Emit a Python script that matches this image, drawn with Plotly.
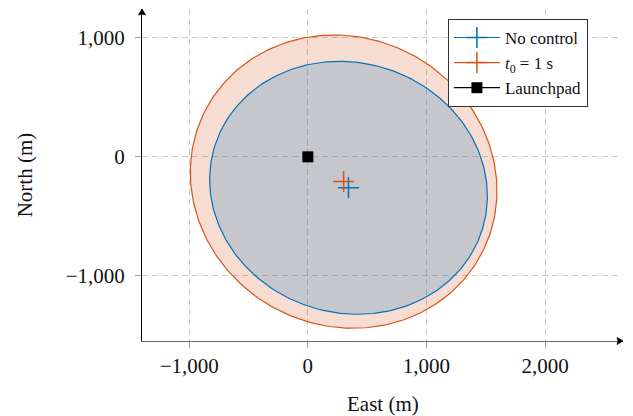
import numpy as np
import plotly.graph_objects as go

# ---- data ----
series_names = ["No control", "<i>t</i><sub>0</sub> = 1 s"]
center_east = [343, 302]          # m
center_north = [-260, -208]       # m
semi_major = [1181, 1311]         # m
semi_minor = [1050, 1211]         # m
rotation_deg = [-16.8, -25.9]     # deg
launch_east = [0]
launch_north = [0]

x_ticks = [-1000, 0, 1000, 2000]
x_ticktext = ["\u22121,000", "0", "1,000", "2,000"]
y_ticks = [-1000, 0, 1000]
y_ticktext = ["\u22121,000", "0", "1,000"]

line_colors = ["#0072BD", "#D95319"]
fill_colors = ["rgba(0,114,189,0.2)", "rgba(217,83,25,0.2)"]

FONT = "Liberation Serif"

def ellipse(i, n=300):
    t = np.linspace(0, 2 * np.pi, n)
    th = np.deg2rad(rotation_deg[i])
    a, b = semi_major[i], semi_minor[i]
    e = center_east[i] + a * np.cos(th) * np.cos(t) - b * np.sin(th) * np.sin(t)
    nn = center_north[i] + a * np.sin(th) * np.cos(t) + b * np.cos(th) * np.sin(t)
    return e, nn

fig = go.Figure()

# ellipses: outer (t0) first, then inner (no control)
for i in [1, 0]:
    e, nn = ellipse(i)
    fig.add_trace(go.Scatter(x=e, y=nn, mode="lines", fill="toself",
                             fillcolor=fill_colors[i],
                             line=dict(color=line_colors[i], width=1.2),
                             showlegend=False, hoverinfo="skip"))

for i in [0, 1]:
    fig.add_trace(go.Scatter(x=[center_east[i]], y=[center_north[i]],
                             mode="lines+markers", name=series_names[i],
                             line=dict(color=line_colors[i], width=1.2),
                             marker=dict(symbol="cross-thin", size=15,
                                         color=line_colors[i],
                                         line=dict(color=line_colors[i], width=1.5))))

fig.add_trace(go.Scatter(x=launch_east, y=launch_north, mode="lines+markers",
                         name="Launchpad",
                         line=dict(color="black", width=1.2),
                         marker=dict(symbol="square", size=11, color="black")))

axis_common = dict(showgrid=True, gridcolor="#c8c8c8", griddash="6px,4px",
                   gridwidth=1, zeroline=False, showline=True,
                   ticks="outside", ticklen=6, tickcolor="#999999",
                   automargin=False,
                   tickfont=dict(family=FONT, size=21, color="#111"))

fig.update_xaxes(range=[-1398, 2657], tickvals=x_ticks, ticktext=x_ticktext,
                 ticklabelstandoff=0, linecolor="#6a6a6a", linewidth=1.4,
                 **axis_common)
fig.update_yaxes(range=[-1546, 1241], tickvals=y_ticks, ticktext=y_ticktext,
                 ticklabelstandoff=6, linecolor="black", linewidth=1,
                 **axis_common)

arrow_shapes = [
    # arrowhead at top of the y axis
    dict(type="path", xref="paper", yref="paper", xsizemode="pixel",
         ysizemode="pixel", xanchor=0, yanchor=1,
         path="M -3.5 -6 L 0 0 L 3.5 -6 Q 0 -4 -3.5 -6 Z",
         fillcolor="black", line=dict(color="black", width=0.8)),
    # arrowhead at right end of the x axis
    dict(type="path", xref="paper", yref="paper", xsizemode="pixel",
         ysizemode="pixel", xanchor=1, yanchor=0,
         path="M -6 3.5 L 0 0 L -6 -3.5 Q -4 0 -6 3.5 Z",
         fillcolor="black", line=dict(color="black", width=0.8)),
]

# the page body adds an 8px margin, so the figure is 8px smaller each way
fig.update_layout(
    width=625, height=408,
    margin=dict(l=134, r=10, t=1, b=75, autoexpand=False),
    plot_bgcolor="white", paper_bgcolor="white",
    font=dict(family=FONT, size=20, color="#111"),
    legend=dict(x=0.636, y=0.97, xanchor="left", yanchor="top",
                bgcolor="white", bordercolor="#333", borderwidth=1,
                itemwidth=46, tracegroupgap=0,
                font=dict(family=FONT, size=17)),
    shapes=arrow_shapes,
    annotations=[
        dict(text="East (m)", xref="paper", yref="paper", x=0.5, y=-0.191,
             xanchor="center", yanchor="middle", showarrow=False,
             font=dict(family=FONT, size=21)),
        dict(text="North (m)", xref="paper", yref="paper", x=-0.2425, y=0.5,
             xanchor="center", yanchor="middle", showarrow=False, textangle=-90,
             font=dict(family=FONT, size=21)),
    ],
)

fig.write_html("out.html")
